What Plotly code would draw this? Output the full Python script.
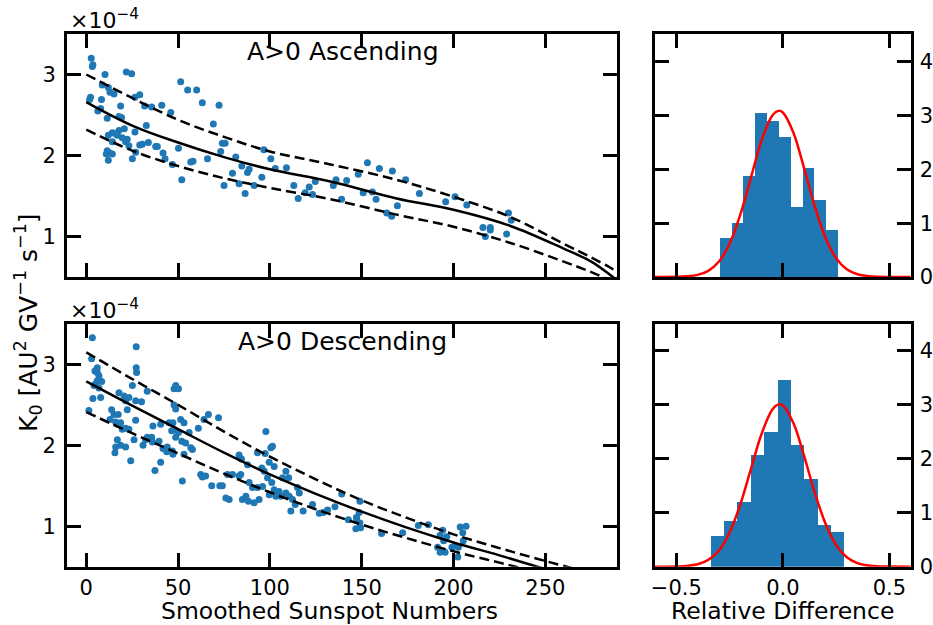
import numpy as np
import plotly.graph_objects as go

# ---------------- data (K0 in units of 1e-4) ----------------
asc_ssn = [2.7, 3.3, 3.6, 10.2, 21.8, 24.7, 8.7, 12.0, 12.9, 15.1, 2.3, 1.8, 8.3, 29.1, 26.5, 18.7, 31.8, 35.6,
           41.1, 46.0, 6.3, 7.8, 17.8, 11.4, 19.2, 32.7, 20.7, 17.8, 16.0, 12.0, 14.2, 16.9, 19.6, 22.3, 26.5,
           14.2, 21.4, 23.2, 30.5, 33.8, 37.8, 38.7, 41.8, 42.9, 26.9, 29.1, 11.4, 12.7, 14.2, 10.9, 12.0, 25.1,
           46.9, 50.2, 51.4, 55.2, 60.1, 63.2, 72.3, 69.2, 74.1, 75.6, 73.2, 66.0, 56.9, 58.1, 52.0, 81.4, 84.7,
           87.8, 88.7, 86.5, 75.0, 79.6, 83.2, 91.4, 95.6, 96.7, 100.5, 102.9, 109.0, 113.0, 115.4, 119.2, 121.4,
           123.2, 124.7,
           134.5, 136.0, 141.8, 148.1, 153.1, 159.6, 166.7, 173.9, 150.8, 155.8, 157.8, 139.0, 163.6, 166.3,
           169.4, 181.4, 195.7, 200.8, 207.2, 229.9, 231.4, 216.0, 220.0, 220.0, 217.3, 228.9]
asc_k0 = [3.20, 3.10, 3.12, 3.00, 3.03, 3.01, 2.87, 2.84, 2.78, 2.76, 2.72, 2.69, 2.69, 2.75, 2.72, 2.61, 2.61, 2.60,
          2.62, 2.53, 2.55, 2.58, 2.48, 2.46, 2.47, 2.37, 2.33, 2.31, 2.27, 2.25, 2.28, 2.25, 2.22, 2.20, 2.29,
          2.17, 2.17, 2.12, 2.14, 2.16, 2.11, 2.11, 2.03, 1.96, 2.04, 2.13, 2.06, 2.03, 2.02, 2.02, 1.94, 1.96,
          1.89, 2.09, 2.91, 2.81, 2.81, 2.65, 2.62, 2.39, 2.15, 2.15, 2.05, 1.96, 1.92, 1.93, 1.70, 1.98, 1.87,
          1.79, 1.83, 1.53, 1.63, 1.78, 1.65, 1.63, 1.73, 2.07, 1.96, 1.84, 1.85, 1.63, 1.47, 1.54, 1.61,
          1.52, 1.68,
          1.63, 1.70, 1.69, 1.77, 1.91, 1.84, 1.81, 1.70, 1.54, 1.55, 1.46, 1.46, 1.29, 1.25,
          1.38, 1.53, 1.43, 1.49, 1.39, 1.29, 1.20, 1.11, 1.11, 1.08, 1.00, 1.03]

desc_ssn = [3.3, 27.2, 2.9, 6.0, 6.0, 6.9, 6.0, 5.1, 6.9, 4.2, 27.2, 27.4, 25.1, 3.6, 7.8, 48.7, 47.8, 50.2, 33.2,
            17.8, 20.5, 23.2, 21.4, 26.9, 30.1, 13.8, 15.1, 17.4, 16.0, 18.7, 12.9, 22.3, 26.9, 21.4, 23.2, 19.6,
            16.9, 15.6, 16.0, 18.7, 21.4, 24.2, 26.0, 30.9, 33.2, 32.3, 36.0, 35.6, 37.4, 40.5, 41.8, 39.6, 44.1,
            43.8, 46.9, 47.2, 48.7, 48.3, 50.2, 52.0, 54.1, 56.0, 56.9, 57.8, 53.2, 52.3, 36.3, 40.5, 45.1, 46.5,
            47.2, 47.8, 48.7, 51.4, 53.2, 61.0, 64.1, 66.5, 72.0, 62.3, 63.2, 65.0, 68.3, 72.7, 74.1, 76.9, 79.6,
            83.2, 84.1, 77.8, 76.0, 83.2, 84.5, 87.8, 88.7, 90.5, 93.2, 97.4, 97.8, 100.5, 101.4, 95.6, 96.9,
            99.6, 102.3, 98.7, 101.0, 102.3, 105.0, 108.7, 110.2, 106.9, 86.9, 85.0, 88.3, 91.4, 93.2, 96.0,
            94.1, 99.6, 103.2, 105.9, 108.7, 110.5, 112.3, 113.8, 115.0, 116.0, 111.4, 118.1, 123.2, 126.9,
            129.0, 131.4, 1.4, 8.4, 4.7,
            139.1, 135.4, 149.0, 148.6, 147.2, 142.7, 147.2, 149.0, 146.8, 149.4, 160.8, 172.3, 180.8, 186.3,
            194.1, 192.7, 196.3, 194.6, 191.3, 192.7, 195.4, 199.1, 200.9, 202.6, 202.3, 203.6, 206.8, 205.0,
            205.3]
desc_k0 = [3.33, 3.22, 3.07, 2.96, 2.90, 2.86, 2.80, 2.76, 2.71, 2.74, 2.96, 2.90, 2.74, 2.58, 2.59, 2.74, 2.70,
           2.70, 2.67, 2.65, 2.61, 2.59, 2.55, 2.55, 2.54, 2.44, 2.38, 2.38, 2.29, 2.28, 2.32, 2.44, 2.31, 2.21,
           2.20, 2.20, 2.07, 1.91, 1.98, 2.00, 1.98, 1.81, 2.07, 2.00, 2.10, 2.07, 2.04, 2.10, 1.69, 1.79, 1.96,
           2.05, 1.98, 1.92, 1.93, 1.89, 2.10, 2.19, 2.16, 2.05, 2.03, 2.16, 1.97, 1.95, 1.89, 1.56, 2.24, 2.26,
           2.28, 2.18, 2.28, 2.50, 2.45, 2.32, 2.28, 2.21, 2.32, 2.38, 2.34, 1.64, 1.61, 1.62, 1.50, 1.50, 1.50,
           1.64, 1.64, 1.62, 1.64, 1.33, 1.35, 1.88, 1.83, 1.76, 1.54, 1.48, 1.91, 1.90, 2.17, 1.97, 1.99, 1.72,
           1.68, 1.79, 1.74, 1.60, 1.54, 1.45, 1.43, 1.68, 1.60, 1.60, 1.37, 1.33, 1.31, 1.29, 1.48, 1.49,
           1.33, 1.39, 1.37, 1.37, 1.41, 1.37, 1.33, 1.27, 1.48, 1.41, 1.19, 1.19, 1.27, 1.16,
           1.17, 1.20, 2.43, 2.79, 2.92,
           1.40, 1.24, 1.31, 1.17, 1.11, 1.08, 1.09, 1.04, 0.97, 0.98, 0.91, 0.92, 1.01, 1.02,
           0.95, 0.89, 0.87, 0.82, 0.74, 0.68, 0.68, 0.74, 0.76, 0.74, 0.62, 0.99, 1.00, 0.92,
           0.82]

# fitted relation and its band
asc_fit_ssn = [0, 25, 50, 75, 100, 133, 169, 200, 231, 260, 275, 285, 292]
asc_fit_mid = [2.66, 2.37, 2.16, 1.98, 1.83, 1.68, 1.47, 1.33, 1.13, 0.85, 0.69, 0.53, 0.40]
asc_fit_hi = [3.00, 2.71, 2.44, 2.23, 2.05, 1.89, 1.70, 1.49, 1.24, 0.91, 0.74, 0.62, 0.52]
asc_fit_lo = [2.32, 2.06, 1.87, 1.72, 1.60, 1.46, 1.27, 1.12, 0.92, 0.69, 0.56, 0.46, 0.38]

desc_fit_ssn = [0, 25, 50, 75, 100, 125, 150, 175, 200, 225, 250, 275]
desc_fit_mid = [2.79, 2.49, 2.20, 1.91, 1.64, 1.40, 1.18, 0.98, 0.80, 0.64, 0.47, 0.31]
desc_fit_hi = [3.15, 2.82, 2.50, 2.17, 1.86, 1.58, 1.32, 1.10, 0.90, 0.73, 0.57, 0.42]
desc_fit_lo = [2.41, 2.15, 1.90, 1.65, 1.42, 1.21, 1.02, 0.85, 0.69, 0.55, 0.41, 0.28]

# histograms of relative difference (density)
asc_bin_edges = [-0.297, -0.241, -0.186, -0.130, -0.074, -0.019, 0.037, 0.093, 0.148, 0.204, 0.260]
asc_density = [0.72, 1.00, 1.88, 3.05, 2.91, 2.61, 1.30, 2.02, 1.44, 0.87]
desc_bin_edges = [-0.339, -0.276, -0.213, -0.151, -0.088, -0.025, 0.038, 0.101, 0.163, 0.226, 0.289]
desc_density = [0.57, 0.85, 1.20, 2.07, 2.49, 3.47, 2.26, 1.63, 0.78, 0.65]

# gaussian fit curves
gauss_x = [-0.6, -0.5, -0.45, -0.4, -0.35, -0.3, -0.25, -0.2, -0.15, -0.1, -0.05, -0.02, 0.0, 0.05, 0.1,
           0.15, 0.2, 0.25, 0.3, 0.35, 0.4, 0.45, 0.5, 0.6]
asc_gauss = [0.0, 0.003, 0.012, 0.04, 0.115, 0.288, 0.62, 1.155, 1.845, 2.54, 3.00, 3.09, 3.06, 2.68, 2.02,
             1.31, 0.73, 0.35, 0.145, 0.052, 0.016, 0.004, 0.001, 0.0]
desc_gauss = [0.0, 0.004, 0.014, 0.045, 0.126, 0.30, 0.635, 1.15, 1.81, 2.46, 2.91, 3.01, 2.99, 2.66, 2.05,
              1.37, 0.80, 0.40, 0.176, 0.067, 0.022, 0.006, 0.0015, 0.0]

ssn_ticks = [0, 50, 100, 150, 200, 250]
k0_ticks = [1, 2, 3]
rd_ticks = [-0.5, 0.0, 0.5]
rd_ticktext = ["\u22120.5", "0.0", "0.5"]
count_ticks = [0, 1, 2, 3, 4]

BLUE = "#1f77b4"
FONT = "DejaVu Sans"

fig = go.Figure()


def add_panel(xa, ya, ssn, k0, fx, fm, fh, fl):
    fig.add_trace(go.Scatter(x=ssn, y=k0, mode="markers", xaxis=xa, yaxis=ya,
                             marker=dict(color=BLUE, size=7, line=dict(width=0))))
    fig.add_trace(go.Scatter(x=fx, y=fm, mode="lines", xaxis=xa, yaxis=ya,
                             line=dict(color="black", width=2.5, shape="spline")))
    for arr in (fh, fl):
        fig.add_trace(go.Scatter(x=fx, y=arr, mode="lines", xaxis=xa, yaxis=ya,
                                 line=dict(color="black", width=2.5, dash="10px,5px", shape="spline")))


def add_hist(xa, ya, edges, dens, gy):
    e = np.array(edges)
    centers = (e[:-1] + e[1:]) / 2
    widths = np.diff(e)
    fig.add_trace(go.Bar(x=centers, y=dens, width=widths, xaxis=xa, yaxis=ya,
                         marker=dict(color=BLUE, line=dict(width=0))))
    fig.add_trace(go.Scatter(x=gauss_x, y=gy, mode="lines", xaxis=xa, yaxis=ya,
                             line=dict(color="red", width=2.5, shape="spline")))


add_panel("x", "y", asc_ssn, asc_k0, asc_fit_ssn, asc_fit_mid, asc_fit_hi, asc_fit_lo)
add_hist("x2", "y2", asc_bin_edges, asc_density, asc_gauss)
add_panel("x3", "y3", desc_ssn, desc_k0, desc_fit_ssn, desc_fit_mid, desc_fit_hi, desc_fit_lo)
add_hist("x4", "y4", desc_bin_edges, desc_density, desc_gauss)

W, H = 933, 625
L0, L1 = 67 / W, 617 / W
R0, R1 = 655 / W, 910.7 / W
T0, T1 = 1 - 277 / H, 1 - 34 / H
B0, B1 = 1 - 566.7 / H, 1 - 324 / H

base = dict(showline=True, linecolor="black", linewidth=2.8, mirror="ticks", ticks="inside",
            ticklen=14, tickwidth=2.5, tickcolor="black", showgrid=False, zeroline=False,
            tickfont=dict(family=FONT, size=21, color="black"), fixedrange=True, automargin=False)

fig.update_layout(
    width=W, height=H, margin=dict(l=0, r=0, t=0, b=0, autoexpand=False),
    paper_bgcolor="white", plot_bgcolor="white", showlegend=False, bargap=0,
    xaxis=dict(base, domain=[L0, L1], range=[-10.5, 289], anchor="y", tickvals=ssn_ticks, showticklabels=False),
    yaxis=dict(base, domain=[T0, T1], range=[0.5, 3.5], anchor="x", tickvals=k0_ticks, ticklabelstandoff=4),
    xaxis2=dict(base, domain=[R0, R1], range=[-0.6, 0.6], anchor="y2", tickvals=rd_ticks, showticklabels=False),
    yaxis2=dict(base, domain=[T0, T1], range=[0, 4.52], anchor="x2", side="right", tickvals=count_ticks,
                ticklabelstandoff=2),
    xaxis3=dict(base, domain=[L0, L1], range=[-10.5, 289], anchor="y3", tickvals=ssn_ticks,
                ticklabelstandoff=0),
    yaxis3=dict(base, domain=[B0, B1], range=[0.5, 3.5], anchor="x3", tickvals=k0_ticks, ticklabelstandoff=4),
    xaxis4=dict(base, domain=[R0, R1], range=[-0.6, 0.6], anchor="y4", tickvals=rd_ticks, ticktext=rd_ticktext,
                ticklabelstandoff=0),
    yaxis4=dict(base, domain=[B0, B1], range=[0, 4.5], anchor="x4", side="right", tickvals=count_ticks,
                ticklabelstandoff=2),
)

title_font = dict(family=FONT, size=25, color="black")
label_font = dict(family=FONT, size=23.5, color="black")
ylabel_font = dict(family=FONT, size=25, color="black")
offset_font = dict(family=FONT, size=22, color="black")
panel_titles = [("A&gt;0 Ascending", 343, 52), ("A&gt;0 Descending", 342, 341)]
for txt, px, py in panel_titles:
    fig.add_annotation(xref="paper", yref="paper", x=px / W, y=1 - py / H, text=txt, showarrow=False,
                       xanchor="center", yanchor="middle", font=title_font)
axis_titles = [("Smoothed Sunspot Numbers", 329), ("Relative Difference", 782)]
for txt, px in axis_titles:
    fig.add_annotation(xref="paper", yref="paper", x=px / W, y=1 - 611 / H, text=txt, showarrow=False,
                       xanchor="center", yanchor="middle", borderpad=0, font=label_font)
for yy in (19, 309):
    fig.add_annotation(xref="paper", yref="paper", x=(L0 * W + 1) / W, y=1 - yy / H,
                       text="\u00d710<sup>\u22124</sup>",
                       showarrow=False, xanchor="left", yanchor="middle", font=offset_font)
fig.add_annotation(xref="paper", yref="paper", x=28 / W, y=1 - 323 / H, textangle=-90,
                   text="K<sub>0</sub> [AU<sup>2</sup> GV<sup>\u22121</sup> s<sup>\u22121</sup>]",
                   showarrow=False, xanchor="center", yanchor="middle", font=ylabel_font)

fig.write_html("out.html")
